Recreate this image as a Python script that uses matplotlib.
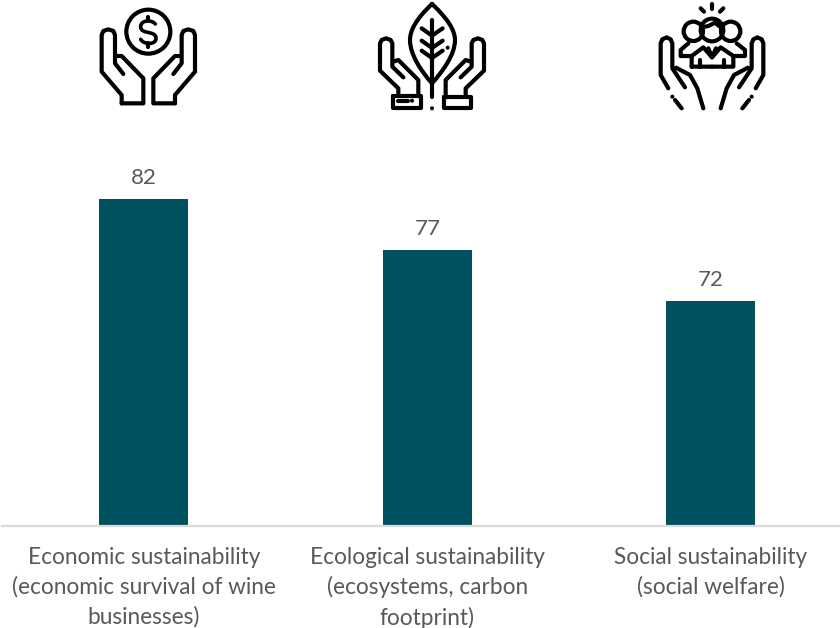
import matplotlib

matplotlib.use("Agg")
import matplotlib.pyplot as plt
from matplotlib.patches import Circle, PathPatch
from matplotlib.path import Path

categories = [
    "Economic sustainability\n(economic survival of wine\nbusinesses)",
    "Ecological sustainability\n(ecosystems, carbon\nfootprint)",
    "Social sustainability\n(social welfare)",
]
scores = [82, 77, 72]

BAR_COLOR = "#00515f"
TEXT_COLOR = "#595959"
ICON_LW = 3.0
W, H = 840, 628

plt.rcParams["font.family"] = ["Lato", "DejaVu Sans"]

fig = plt.figure(figsize=(W / 100, H / 100), dpi=100)
ax = fig.add_axes([2 / W, (H - 526) / H, 838 / W, 526 / H])
bars = ax.bar(range(len(scores)), scores, width=0.314, color=BAR_COLOR)
ax.bar_label(bars, padding=8, fontsize=16, color=TEXT_COLOR)
ax.set_xlim(-0.5, 2.455)
ax.set_ylim(50, 101.5)
ax.set_yticks([])
ax.set_xticks(range(len(scores)))
ax.set_xticklabels(categories, fontsize=16.3, color=TEXT_COLOR, linespacing=1.47)
ax.tick_params(axis="x", length=0, pad=15)
for side in ["top", "left", "right"]:
    ax.spines[side].set_visible(False)
ax.spines["bottom"].set_color("#d9d9d9")
ax.spines["bottom"].set_linewidth(1.6)

# icons are sketched on a pixel-sized overlay
icons = fig.add_axes([0, 0, 1, 1])
icons.set_xlim(0, W)
icons.set_ylim(H, 0)
icons.axis("off")


def stroke(pts, x0, mirror=None, closed=False, lw=ICON_LW):
    # points are in 1/3 pixel units relative to the icon's corner
    if mirror is not None:
        pts = [(2 * mirror - x, y) for x, y in pts]
    xs = [x0 + x / 3 for x, y in pts]
    ys = [y / 3 for x, y in pts]
    if closed:
        xs.append(xs[0])
        ys.append(ys[0])
    icons.plot(xs, ys, color="black", lw=lw, solid_capstyle="round", solid_joinstyle="round")


def ring(cx, cy, r, x0, lw=ICON_LW):
    icons.add_patch(Circle((x0 + cx / 3, cy / 3), r / 3, fill=False, ec="black", lw=lw))


def dot(cx, cy, x0, r=6):
    icons.add_patch(Circle((x0 + cx / 3, cy / 3), r / 3, fc="black", ec="none"))


def curve(verts, codes, x0, lw=ICON_LW):
    verts = [(x0 + x / 3, y / 3) for x, y in verts]
    icons.add_patch(PathPatch(Path(verts, codes), fill=False, ec="black", lw=lw, capstyle="round"))


# money in hands
x0 = 80
ring(205, 95, 66, x0)
curve(
    [(226, 72), (215, 58), (182, 60), (182, 80), (182, 105), (228, 90), (228, 115), (228, 135), (192, 135), (182, 118)],
    [Path.MOVETO] + [Path.CURVE4] * 9,
    x0,
    lw=2.6,
)
stroke([(205, 50), (205, 60)], x0)
stroke([(205, 130), (205, 140)], x0)
hand1 = [
    (125, 310), (125, 285), (65, 215), (65, 105), (70, 93), (85, 88), (100, 93), (105, 105),
    (105, 190), (130, 222),
]
palm1 = [(112, 168), (125, 168), (190, 235), (190, 310), (125, 310)]
for m in [None, 205]:
    stroke(hand1, x0, m)
    stroke(palm1, x0, m)

# leaf in hands
x0 = 360
curve(
    [(216, 12), (170, 55), (150, 90), (150, 120), (150, 165), (185, 215), (216, 250),
     (247, 215), (285, 165), (285, 120), (285, 90), (262, 55), (216, 12)],
    [Path.MOVETO] + [Path.CURVE4] * 12,
    x0,
)
stroke([(216, 60), (216, 290)], x0)
dot(216, 325, x0)
dot(263, 143, x0)
for y in [85, 122, 152]:
    stroke([(185, y), (216, y + 22)], x0)
    stroke([(248, y), (216, y + 22)], x0)
hand2 = [
    (115, 285), (115, 265), (60, 212), (60, 130), (65, 120), (78, 115), (92, 120), (97, 130),
    (97, 200), (130, 232),
]
palm2 = [(100, 185), (115, 180), (175, 240), (175, 285)]
for m in [None, 216]:
    stroke(hand2, x0, m)
    stroke(palm2, x0, m)
stroke([(100, 287), (182, 287), (182, 325), (100, 325)], x0, closed=True)
stroke([(252, 290), (332, 290), (332, 325), (252, 325)], x0, closed=True)
stroke([(115, 302), (145, 302)], x0)
dot(156, 302, x0)

# people in hands
x0 = 640
stroke([(216, 12), (216, 28)], x0)
stroke([(182, 25), (192, 35)], x0)
stroke([(250, 25), (240, 35)], x0)
ring(216, 90, 34, x0)
ring(160, 94, 29, x0)
ring(272, 94, 29, x0)
stroke([(186, 82), (205, 78), (225, 68), (246, 85)], x0)
stroke([(155, 200), (155, 168), (190, 142), (216, 172), (242, 142), (280, 168), (280, 200), (155, 200)], x0)
stroke([(205, 145), (216, 172), (228, 145)], x0)
stroke([(155, 168), (122, 168), (122, 150), (145, 130)], x0)
stroke([(280, 168), (315, 168), (315, 150), (290, 130)], x0)
stroke([(180, 180), (180, 200)], x0)
stroke([(252, 180), (252, 200)], x0)
dot(216, 200, x0)
hand3 = [
    (85, 265), (62, 225), (62, 130), (67, 118), (80, 112), (92, 118), (97, 130), (97, 205), (135, 262),
]
palm3 = [(108, 203), (150, 225), (172, 265), (190, 325)]
for m in [None, 216]:
    stroke(hand3, x0, m)
    stroke(palm3, x0, m)
    stroke([(105, 300), (125, 325)], x0, m)
dot(97, 290, x0)
dot(335, 290, x0)

fig.savefig("out.png", dpi=100)
